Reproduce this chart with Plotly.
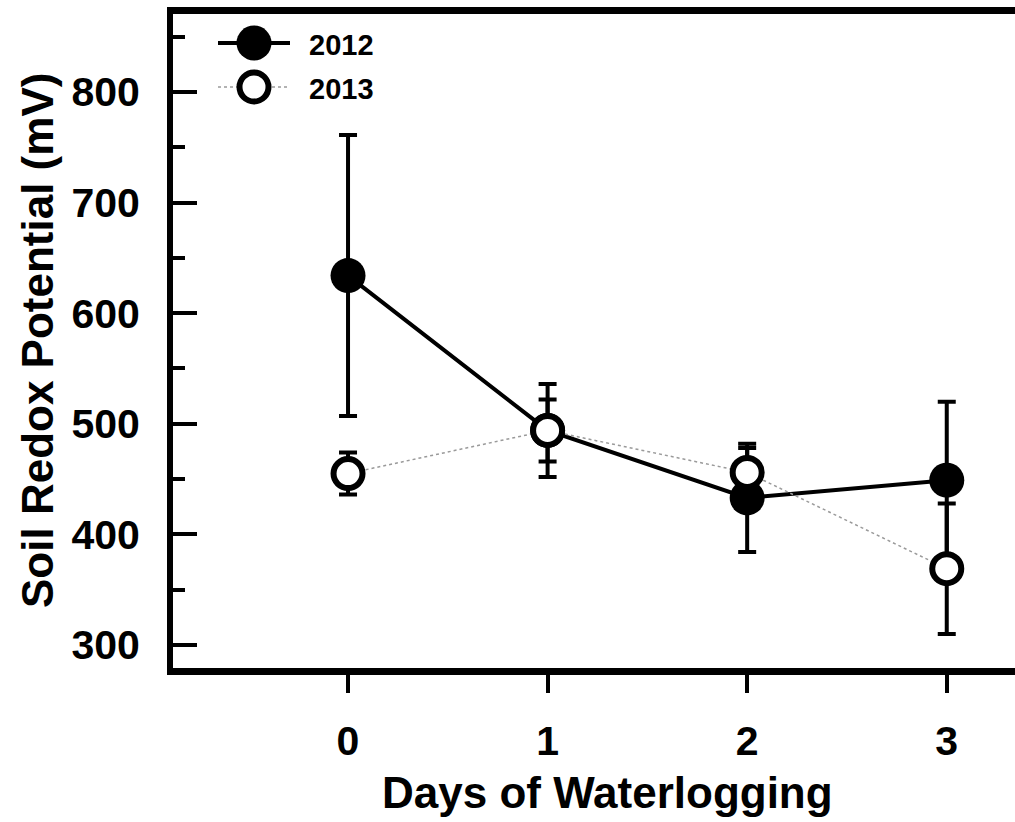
import plotly.graph_objects as go

# Soil redox potential over days of waterlogging, two seasons
days = [0, 1, 2, 3]
years = ["2012", "2013"]
redox_2012 = [634, 494, 433, 449]
err_2012 = [127, 42, 49, 71]
redox_2013 = [455, 494, 456, 369]
err_2013 = [19, 28, 22, 59]
y_tick_vals = [300, 400, 500, 600, 700, 800]
x_tick_vals = [0, 1, 2, 3]

W, H = 1015, 822
L, R, T, B = 173, 0, 14, 154
X_RANGE = [-0.877, 3.342]
Y_RANGE = [279.2, 870.5]
FONT = "Arial, 'Liberation Sans', Helvetica, sans-serif"


def to_paper(px, py):
    """Convert page pixel position to paper coordinates of the plot area."""
    pw = W - L - R
    ph = H - T - B
    return (px - L) / pw, (H - B - py) / ph


fig = go.Figure()

fig.add_trace(go.Scatter(
    x=days, y=redox_2012, name=years[0], mode="lines+markers",
    line=dict(color="black", width=4),
    marker=dict(size=35, color="black", line=dict(width=0)),
    error_y=dict(type="data", array=err_2012, color="black", thickness=4, width=9),
    showlegend=False, cliponaxis=False,
))
fig.add_trace(go.Scatter(
    x=days, y=redox_2013, name=years[1], mode="lines+markers",
    line=dict(color="#9a9a9a", width=1.5, dash="dot"),
    marker=dict(size=29, color="white", line=dict(color="black", width=6)),
    error_y=dict(type="data", array=err_2013, color="black", thickness=4, width=9),
    showlegend=False, cliponaxis=False,
))

# Legend keys drawn by hand so the symbols keep their full size
shapes = []
annotations = []
legend_rows = [
    (years[0], 43, dict(color="black", width=4), "black", 0, 17.5),
    (years[1], 87, dict(color="#9a9a9a", width=1.5, dash="dot"), "white", 6, 14.5),
]
for label, cy, line_style, fill, ring, rad in legend_rows:
    x0, y0 = to_paper(218, cy)
    x1, _ = to_paper(290, cy)
    shapes.append(dict(type="line", xref="paper", yref="paper",
                       x0=x0, x1=x1, y0=y0, y1=y0, line=line_style))
    cx0, cy0 = to_paper(254 - rad, cy + rad)
    cx1, cy1 = to_paper(254 + rad, cy - rad)
    shapes.append(dict(type="circle", xref="paper", yref="paper",
                       x0=cx0, x1=cx1, y0=cy0, y1=cy1, fillcolor=fill,
                       line=dict(color="black", width=ring)))
    tx, ty = to_paper(307, cy + 2)
    annotations.append(dict(text=f"<b>{label}</b>", xref="paper", yref="paper",
                            x=tx, y=ty, xanchor="left", yanchor="middle",
                            showarrow=False, font=dict(size=29, color="black", family=FONT)))

# Axis titles
tx, ty = to_paper(607, 792)
annotations.append(dict(text="<b>Days of Waterlogging</b>", xref="paper", yref="paper",
                        x=tx, y=ty, xanchor="center", yanchor="middle", showarrow=False,
                        font=dict(size=44, color="black", family=FONT)))
tx, ty = to_paper(37, 341)
annotations.append(dict(text="<b>Soil Redox Potential (mV)</b>", xref="paper", yref="paper",
                        x=tx, y=ty, xanchor="center", yanchor="middle", showarrow=False,
                        textangle=-90, font=dict(size=44, color="black", family=FONT)))

fig.update_layout(
    width=W, height=H,
    margin=dict(l=L, r=R, t=T, b=B, pad=0),
    paper_bgcolor="white", plot_bgcolor="white",
    font=dict(family=FONT, color="black"),
    shapes=shapes, annotations=annotations,
    showlegend=False,
)
fig.update_xaxes(
    range=X_RANGE, tickvals=x_tick_vals, ticktext=[f"<b>{v}</b>" for v in x_tick_vals],
    showline=True, linecolor="black", linewidth=7, mirror=True,
    ticks="outside", ticklen=18, tickwidth=4, tickcolor="black",
    showgrid=False, zeroline=False,
    tickfont=dict(size=41, family=FONT, color="black"), ticklabelstandoff=13,
)
fig.update_yaxes(
    range=Y_RANGE, tickvals=y_tick_vals, ticktext=[f"<b>{v}</b>" for v in y_tick_vals],
    showline=True, linecolor="black", linewidth=6, mirror=False,
    ticks="inside", ticklen=24, tickwidth=4, tickcolor="black",
    minor=dict(dtick=50, tick0=0, ticks="inside", ticklen=12, tickwidth=4, tickcolor="black"),
    showgrid=False, zeroline=False,
    tickfont=dict(size=41, family=FONT, color="black"), ticklabelstandoff=19,
)

fig.write_html("out.html")
